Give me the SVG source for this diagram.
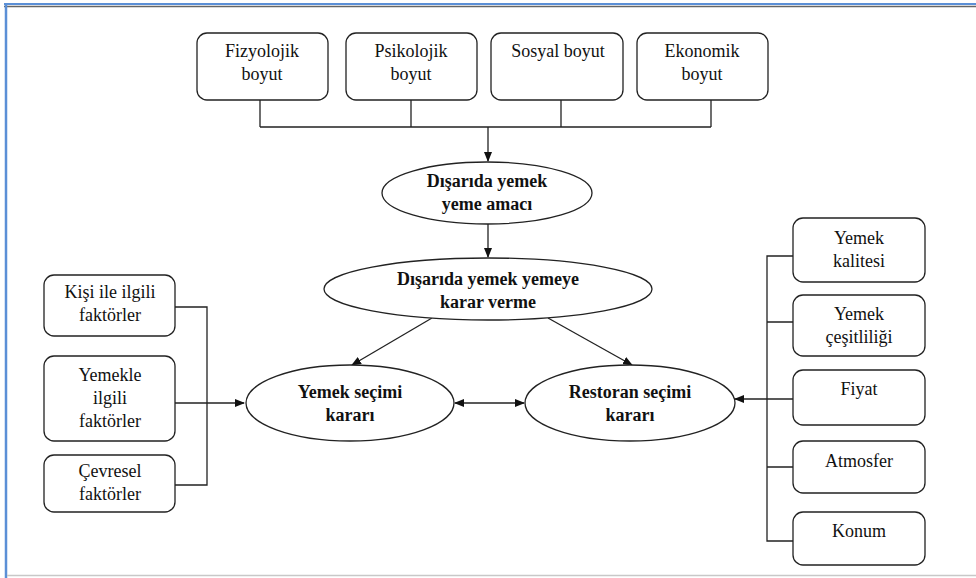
<svg xmlns="http://www.w3.org/2000/svg" width="976" height="578" viewBox="0 0 976 578">
<style>
.box{fill:#fff;stroke:#222;stroke-width:1.3}
.ell{fill:#fff;stroke:#222;stroke-width:1.3}
.t{font-family:"Liberation Serif","Tinos","Times New Roman","DejaVu Serif",serif;font-size:18px;fill:#111;text-anchor:middle}
.b{font-weight:bold}
.ln{fill:none;stroke:#222;stroke-width:1.3}
</style>
<defs>
<marker id="ah" markerWidth="10" markerHeight="8" refX="9" refY="4" orient="auto-start-reverse" markerUnits="userSpaceOnUse">
<path d="M0,0 L10,4 L0,8 Z" fill="#111"/>
</marker>
</defs>
<rect x="0" y="0" width="976" height="578" fill="#fff"/>
<line x1="4" y1="4" x2="976" y2="4" stroke="#5b8fd6" stroke-width="2"/>
<line x1="4" y1="6.5" x2="976" y2="6.5" stroke="#666" stroke-width="1.5"/>
<line x1="6" y1="3" x2="6" y2="578" stroke="#5b8fd6" stroke-width="2.5"/>
<line x1="7" y1="575.5" x2="976" y2="575.5" stroke="#c8c8c8" stroke-width="1.5"/>

<g id="connectors">
<path class="ln" d="M260,100 V127 M411,100 V127 M561,100 V127 M711,100 V127 M260,127 H711"/>
<line class="ln" x1="488" y1="127" x2="488" y2="161" marker-end="url(#ah)"/>
<line class="ln" x1="488" y1="224" x2="488" y2="257" marker-end="url(#ah)"/>
<line class="ln" x1="432" y1="318" x2="352" y2="365" marker-end="url(#ah)"/>
<line class="ln" x1="548" y1="318" x2="632" y2="365" marker-end="url(#ah)"/>
<line class="ln" x1="455" y1="403" x2="524" y2="403" marker-start="url(#ah)" marker-end="url(#ah)"/>
<path class="ln" d="M175,307 H207 V485 H175"/>
<line class="ln" x1="175" y1="403" x2="244" y2="403" marker-end="url(#ah)"/>
<path class="ln" d="M793,256 H767 V541 H793 M767,322 H793 M767,467 H793"/>
<line class="ln" x1="793" y1="399" x2="735" y2="399" marker-end="url(#ah)"/>
</g>

<g id="fizyolojik"><rect class="box" x="197" y="33" width="131" height="67" rx="10"/><text class="t" x="262" y="57">Fizyolojik</text><text class="t" x="262" y="80">boyut</text></g>
<g id="psikolojik"><rect class="box" x="346" y="33" width="131" height="67" rx="10"/><text class="t" x="411" y="57">Psikolojik</text><text class="t" x="411" y="80">boyut</text></g>
<g id="sosyal"><rect class="box" x="491" y="33" width="132" height="67" rx="10"/><text class="t" x="558" y="57">Sosyal boyut</text></g>
<g id="ekonomik"><rect class="box" x="637" y="33" width="131" height="67" rx="10"/><text class="t" x="702" y="57">Ekonomik</text><text class="t" x="702" y="80">boyut</text></g>

<g id="amac"><ellipse class="ell" cx="487" cy="193" rx="105" ry="31"/><text class="t b" x="487" y="187">Dışarıda yemek</text><text class="t b" x="487" y="210">yeme amacı</text></g>
<g id="karar"><ellipse class="ell" cx="488" cy="289" rx="164" ry="31"/><text class="t b" x="488" y="285">Dışarıda yemek yemeye</text><text class="t b" x="488" y="308">karar verme</text></g>
<g id="yemeksecimi"><ellipse class="ell" cx="350" cy="403" rx="104" ry="38"/><text class="t b" x="350" y="398">Yemek seçimi</text><text class="t b" x="350" y="421">kararı</text></g>
<g id="restoransecimi"><ellipse class="ell" cx="630" cy="403" rx="105" ry="38"/><text class="t b" x="630" y="398">Restoran seçimi</text><text class="t b" x="630" y="421">kararı</text></g>

<g id="kisi"><rect class="box" x="44" y="275" width="131" height="61" rx="10"/><text class="t" x="110" y="298">Kişi ile ilgili</text><text class="t" x="110" y="321">faktörler</text></g>
<g id="yemekle"><rect class="box" x="44" y="356" width="131" height="85" rx="10"/><text class="t" x="110" y="381">Yemekle</text><text class="t" x="110" y="404">ilgili</text><text class="t" x="110" y="427">faktörler</text></g>
<g id="cevresel"><rect class="box" x="44" y="455" width="131" height="57" rx="10"/><text class="t" x="110" y="477">Çevresel</text><text class="t" x="110" y="500">faktörler</text></g>

<g id="kalite"><rect class="box" x="793" y="218" width="132" height="64" rx="10"/><text class="t" x="859" y="244">Yemek</text><text class="t" x="859" y="267">kalitesi</text></g>
<g id="cesit"><rect class="box" x="793" y="295" width="132" height="61" rx="10"/><text class="t" x="859" y="320">Yemek</text><text class="t" x="859" y="343">çeşitliliği</text></g>
<g id="fiyat"><rect class="box" x="793" y="370" width="132" height="55" rx="10"/><text class="t" x="859" y="395">Fiyat</text></g>
<g id="atmosfer"><rect class="box" x="793" y="441" width="132" height="52" rx="10"/><text class="t" x="859" y="467">Atmosfer</text></g>
<g id="konum"><rect class="box" x="793" y="512" width="132" height="53" rx="10"/><text class="t" x="859" y="537">Konum</text></g>
</svg>
